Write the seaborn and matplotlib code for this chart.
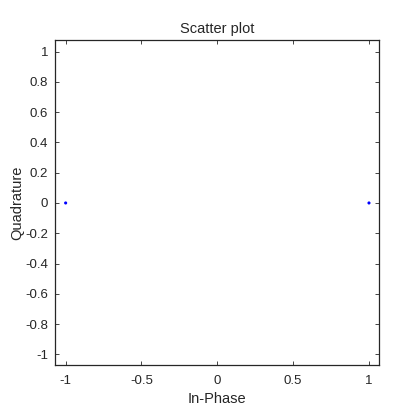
import numpy as np
import pandas as pd
import matplotlib
matplotlib.use("Agg")
import matplotlib.pyplot as plt
import seaborn as sns

sns.set_theme(style="white")
plt.rcParams['font.family'] = ['Liberation Sans', 'DejaVu Sans']

# BPSK constellation points
in_phase = [-1.0, 1.0]
quadrature = [0.0, 0.0]
ticks_x = [-1, -0.5, 0, 0.5, 1]
ticks_y = [-1, -0.8, -0.6, -0.4, -0.2, 0, 0.2, 0.4, 0.6, 0.8, 1]

df = pd.DataFrame({"In-Phase": in_phase, "Quadrature": quadrature})

fig = plt.figure(figsize=(4.2, 4.2), dpi=100)
ax = fig.add_axes([0.131, 0.131, 0.771, 0.774])

sns.scatterplot(data=df, x="In-Phase", y="Quadrature", ax=ax,
                color="#0000ff", s=5, marker="o", edgecolor="none")

ax.set_xlim(-1.07, 1.065)
ax.set_ylim(-1.07, 1.077)
ax.set_xticks(ticks_x)
ax.set_xticklabels([f"{t:g}" for t in ticks_x])
ax.set_yticks(ticks_y)
ax.set_yticklabels([f"{t:g}" for t in ticks_y])

ax.tick_params(direction="in", length=3, width=0.6, color="#262626",
               labelsize=9.5, labelcolor="#262626", top=True, right=True,
               bottom=True, left=True, pad=5)
ax.tick_params(axis="x", pad=7)
for sp in ax.spines.values():
    sp.set_color("#262626")
    sp.set_linewidth(0.9)

ax.set_title("Scatter plot", fontsize=10.5, color="#262626", pad=5)
ax.set_xlabel("In-Phase", fontsize=10.5, color="#262626", labelpad=4)
ax.set_ylabel("Quadrature", fontsize=10.5, color="#262626", labelpad=1)

fig.savefig("out.png", dpi=100, facecolor="white")
